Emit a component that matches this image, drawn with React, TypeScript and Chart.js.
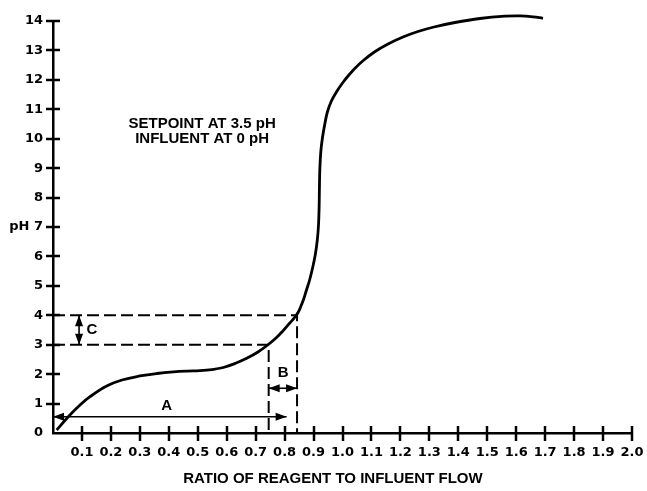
import React, { useEffect, useRef } from 'react';
import { Chart, registerables } from 'chart.js';

Chart.register(...registerables);

// titration curve (ratio of reagent to influent flow vs pH)
const curveX = [0.0128, 0.0528, 0.0933, 0.1278, 0.1855, 0.2383, 0.3005, 0.3592, 0.4155, 0.4629, 0.5078, 0.5492, 0.5883, 0.6287, 0.6691, 0.7081, 0.7437, 0.7703, 0.7955, 0.8173, 0.8342, 0.8470, 0.8566, 0.8660, 0.8756, 0.8864, 0.8974, 0.9064, 0.9130, 0.9171, 0.9192, 0.9202, 0.9216, 0.9250, 0.9306, 0.9389, 0.9478, 0.9617, 0.9789, 1.0000, 1.0221, 1.0442, 1.0698, 1.1102, 1.1572, 1.2090, 1.2608, 1.3161, 1.3886, 1.4750, 1.5613, 1.6131, 1.6580, 1.6926];
const curveY = [0.102, 0.554, 0.951, 1.233, 1.597, 1.801, 1.937, 2.022, 2.076, 2.103, 2.117, 2.154, 2.226, 2.362, 2.538, 2.752, 3.007, 3.228, 3.483, 3.728, 3.921, 4.105, 4.316, 4.553, 4.859, 5.199, 5.641, 6.083, 6.558, 7.068, 7.646, 8.257, 8.937, 9.549, 10.024, 10.500, 10.908, 11.282, 11.587, 11.893, 12.165, 12.403, 12.641, 12.947, 13.219, 13.457, 13.643, 13.796, 13.949, 14.085, 14.163, 14.174, 14.143, 14.092];

// dashed guide lines
const guide3X = [0, 0.745, 0.745];
const guide3Y = [3, 3, 0];
const guide4X = [0, 0.843, 0.843];
const guide4Y = [4, 4, 0];

// dimension arrows
const arrowAX = [0.0, 0.807];
const arrowAY = [0.55, 0.55];
const arrowBX = [0.745, 0.843];
const arrowBY = [1.52, 1.52];
const arrowCX = [0.09, 0.09];
const arrowCY = [3, 4];

// annotation letters
const letterText = ['A', 'B', 'C'];
const letterX = [0.393, 0.795, 0.134];
const letterY = [0.92, 2.05, 3.52];

// note text
const noteLines = ['SETPOINT AT 3.5 pH', 'INFLUENT AT 0 pH'];
const noteX = 0.515;
const noteY = [10.52, 10.01];

const xAxisTitle = 'RATIO OF REAGENT TO INFLUENT FLOW';
const xAxisTitleX = 0.967;

const xMin = 0, xMax = 2, xStep = 0.1;
const yMin = 0, yMax = 14, yStep = 1;

const FONT = '"Liberation Sans", Arial, Helvetica, sans-serif';
const TICK_FONT = '"DejaVu Sans", Verdana, sans-serif';

const toPts = (xs: number[], ys: number[]) => xs.map((x, i) => ({ x, y: ys[i] }));

function drawHead(ctx: CanvasRenderingContext2D, fx: number, fy: number, tx: number, ty: number) {
  const ang = Math.atan2(ty - fy, tx - fx);
  const len = 11, half = 4;
  ctx.beginPath();
  ctx.moveTo(tx, ty);
  ctx.lineTo(tx - len * Math.cos(ang) + half * Math.sin(ang), ty - len * Math.sin(ang) - half * Math.cos(ang));
  ctx.lineTo(tx - len * Math.cos(ang) - half * Math.sin(ang), ty - len * Math.sin(ang) + half * Math.cos(ang));
  ctx.closePath();
  ctx.fill();
}

const decorPlugin = {
  id: 'decor',
  afterDatasetsDraw(chart: any) {
    const ctx = chart.ctx as CanvasRenderingContext2D;
    ctx.save();
    ctx.fillStyle = '#000';
    chart.data.datasets.forEach((ds: any, i: number) => {
      if (!ds.arrows) return;
      const pts = chart.getDatasetMeta(i).data;
      const a = pts[0], b = pts[pts.length - 1];
      drawHead(ctx, b.x, b.y, a.x, a.y);
      drawHead(ctx, a.x, a.y, b.x, b.y);
    });
    ctx.restore();
  },
  afterDraw(chart: any) {
    const ctx = chart.ctx as CanvasRenderingContext2D;
    const xs = chart.scales.x, ys = chart.scales.y;
    const area = chart.chartArea;
    ctx.save();
    ctx.strokeStyle = '#000';
    ctx.lineWidth = 2.5;
    ctx.lineCap = 'butt';
    // crossing tick marks
    xs.ticks.forEach((t: any) => {
      if (t.value <= 0) return;
      const px = Math.round(xs.getPixelForValue(t.value));
      ctx.beginPath();
      ctx.moveTo(px, area.bottom - 7);
      ctx.lineTo(px, area.bottom + 8);
      ctx.stroke();
    });
    ys.ticks.forEach((t: any) => {
      if (t.value <= 0) return;
      const py = Math.round(ys.getPixelForValue(t.value));
      ctx.beginPath();
      ctx.moveTo(area.left - 7, py);
      ctx.lineTo(area.left + 7, py);
      ctx.stroke();
    });
    // texts
    ctx.fillStyle = '#000';
    ctx.textAlign = 'center';
    ctx.textBaseline = 'middle';
    ctx.font = `bold 15px ${FONT}`;
    noteLines.forEach((s, i) => {
      ctx.fillText(s, xs.getPixelForValue(noteX), ys.getPixelForValue(noteY[i]));
    });
    letterText.forEach((s, i) => {
      ctx.fillText(s, xs.getPixelForValue(letterX[i]), ys.getPixelForValue(letterY[i]));
    });
    ctx.fillText(xAxisTitle, xs.getPixelForValue(xAxisTitleX), xs.bottom - 12);
    ctx.restore();
  },
};

export default function App() {
  const ref = useRef<HTMLCanvasElement>(null);
  useEffect(() => {
    if (!ref.current) return;
    const chart = new Chart(ref.current, {
      type: 'line',
      data: {
        datasets: [
          {
            data: toPts(curveX, curveY),
            borderColor: '#000',
            borderWidth: 2.8,
            pointRadius: 0,
            tension: 0.4,
            capBezierPoints: false,
            clip: false,
          } as any,
          {
            data: toPts(guide3X, guide3Y),
            borderColor: '#000',
            borderWidth: 2,
            borderDash: [12, 5],
            pointRadius: 0,
            tension: 0,
          },
          {
            data: toPts(guide4X, guide4Y),
            borderColor: '#000',
            borderWidth: 2,
            borderDash: [12, 5],
            pointRadius: 0,
            tension: 0,
          },
          {
            data: toPts(arrowAX, arrowAY),
            borderColor: '#000',
            borderWidth: 1.6,
            pointRadius: 0,
            arrows: true,
          } as any,
          {
            data: toPts(arrowBX, arrowBY),
            borderColor: '#000',
            borderWidth: 1.6,
            pointRadius: 0,
            arrows: true,
          } as any,
          {
            data: toPts(arrowCX, arrowCY),
            borderColor: '#000',
            borderWidth: 1.6,
            pointRadius: 0,
            arrows: true,
          } as any,
        ],
      },
      options: {
        animation: false,
        responsive: false,
        maintainAspectRatio: false,
        elements: { line: { capBezierPoints: false } },
        layout: { padding: { top: 21, right: 15, left: 0, bottom: 0 } },
        plugins: { legend: { display: false }, tooltip: { enabled: false } },
        scales: {
          x: {
            type: 'linear',
            min: xMin,
            max: xMax,
            grid: { display: false, drawTicks: false },
            border: { display: true, color: '#000', width: 2.5 },
            ticks: {
              stepSize: xStep,
              autoSkip: false,
              maxRotation: 0,
              padding: 12,
              color: '#000',
              font: { family: TICK_FONT, size: 13, weight: 'bold' },
              callback: (v: any) => (Math.abs(Number(v)) < 1e-9 ? '' : Number(v).toFixed(1)),
            },
            afterFit: (s: any) => {
              s.height = 58;
              s.paddingLeft = 0;
              s.paddingRight = 0;
            },
          },
          y: {
            type: 'linear',
            min: yMin,
            max: yMax,
            grid: { display: false, drawTicks: false },
            border: { display: true, color: '#000', width: 2.5 },
            ticks: {
              stepSize: yStep,
              autoSkip: false,
              padding: 10,
              color: '#000',
              font: { family: TICK_FONT, size: 13, weight: 'bold' },
              callback: (v: any) => (Number(v) === 7 ? 'pH 7' : String(Math.round(Number(v)))),
            },
            afterFit: (s: any) => {
              s.width = 53;
              s.paddingTop = 0;
              s.paddingBottom = 0;
            },
          },
        },
      },
      plugins: [decorPlugin],
    } as any);
    return () => chart.destroy();
  }, []);
  return (
    <div style={{ position: 'fixed', left: 0, top: 0, width: 647, height: 491, background: '#fff' }}>
      <canvas ref={ref} width={647} height={491} style={{ display: 'block' }} />
    </div>
  );
}
